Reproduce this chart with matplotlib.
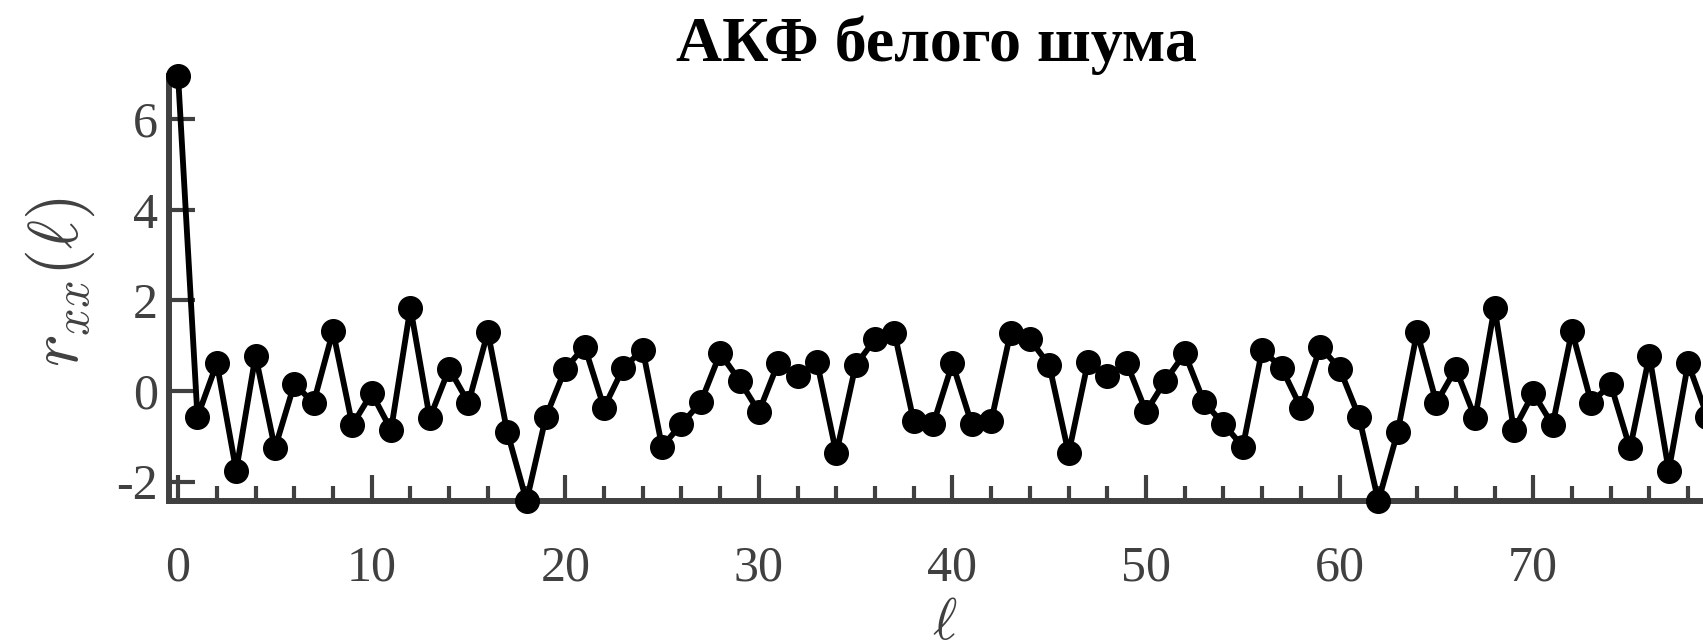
import matplotlib
matplotlib.use('Agg')
import matplotlib.pyplot as plt
from matplotlib.ticker import MultipleLocator

# autocorrelation of white noise, lags 0..79
lags = list(range(80))
r_xx = [6.95, -0.57, 0.61, -1.76, 0.78, -1.27, 0.15, -0.26, 1.32, -0.75,
        -0.05, -0.86, 1.84, -0.60, 0.49, -0.26, 1.30, -0.90, -2.43, -0.57,
        0.49, 0.98, -0.37, 0.51, 0.91, -1.23, -0.73, -0.25, 0.83, 0.23,
        -0.46, 0.62, 0.33, 0.64, -1.38, 0.57, 1.14, 1.29, -0.67, -0.74,
        0.61, -0.74, -0.67, 1.29, 1.14, 0.57, -1.38, 0.64, 0.33, 0.62,
        -0.46, 0.23, 0.83, -0.25, -0.73, -1.23, 0.91, 0.51, -0.37, 0.98,
        0.49, -0.57, -2.43, -0.90, 1.30, -0.26, 0.49, -0.60, 1.84, -0.86,
        -0.05, -0.75, 1.32, -0.26, 0.15, -1.27, 0.78, -1.76, 0.61, -0.57]
y_ticks = [-2, 0, 2, 4, 6]
title = 'АКФ белого шума'

plt.rcParams['font.family'] = ['Liberation Serif', 'DejaVu Serif']
plt.rcParams['mathtext.fontset'] = 'cm'
plt.rcParams['axes.unicode_minus'] = False

gray = '#404040'

fig = plt.figure(figsize=(17.03, 6.4), dpi=100)
ax = fig.add_axes([169/1703, 139/640, 1534/1703, 424.8/640])

ax.plot(lags, r_xx, color='black', lw=4.2, marker='o', markersize=17,
        markerfacecolor='black', markeredgecolor='black', clip_on=False, zorder=5)

ax.set_xlim(-0.47, 78.77)
ax.set_ylim(-2.43, 6.95)

for side in ['top', 'right']:
    ax.spines[side].set_visible(False)
for side in ['left', 'bottom']:
    ax.spines[side].set_color(gray)
    ax.spines[side].set_linewidth(4.3)

ax.xaxis.set_major_locator(MultipleLocator(10))
ax.xaxis.set_minor_locator(MultipleLocator(2))
ax.set_yticks(y_ticks)
ax.tick_params(axis='both', which='both', direction='in', color=gray,
               labelcolor=gray, labelsize=36)
ax.tick_params(axis='both', which='major', length=19, width=3)
ax.tick_params(axis='x', which='minor', length=11, width=3)
ax.tick_params(axis='x', which='major', pad=32)
ax.tick_params(axis='y', which='major', pad=8)

ax.set_title(title, fontsize=46, fontweight='bold', color='black', pad=11)

fig.text(60/1703, 1 - 282/640, r'$r_{xx}(\ell)$', rotation=90, ha='center',
         va='center', fontsize=50, color=gray)
fig.text(945/1703, 1 - 625/640, r'$\ell$', ha='center', va='center',
         fontsize=42, color=gray)

fig.savefig('out.png', dpi=100)
